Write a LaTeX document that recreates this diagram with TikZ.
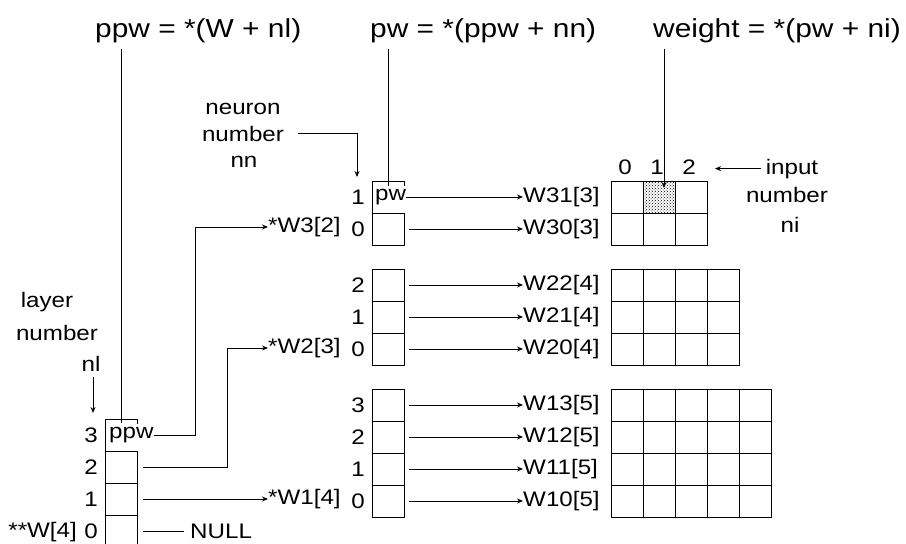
\documentclass[tikz,border=0pt]{standalone}
\usepackage{fontspec}
\setmainfont{Liberation Sans}[FakeStretch=1.15]
\usetikzlibrary{arrows.meta,calc,patterns}
\begin{document}
\begin{tikzpicture}[x=1pt,y=-1pt,
  ln/.style={line width=0.9pt},
  cell/.style={draw,line width=0.9pt,minimum width=32pt,minimum height=32pt,inner sep=0pt,outer sep=0pt},
  hcell/.style={minimum width=32pt,minimum height=32pt,inner sep=0pt,outer sep=0pt},
  big/.style={font=\fontsize{26}{30}\selectfont,inner sep=0pt},
  sm/.style={font=\fontsize{21}{25}\selectfont,inner sep=0pt},
  arr/.style={line width=0.9pt,-{Stealth[length=6pt,width=5pt]}}]
\useasboundingbox (0,0) rectangle (906,544);

% top formulas
\node[big,anchor=base west] (tppw) at (95,37) {ppw = *(W + nl)};
\node[big,anchor=base west] (tpw) at (370,37) {pw = *(ppw + nn)};
\node[big,anchor=base west] (tw) at (653,37) {weight = *(pw + ni)};

% ---------- left stack (layers) ----------
\node[hcell] (L3) at (121,435) {};
\foreach \n/\y in {2/467,1/499,0/531} \node[cell] (L\n) at (121,\y) {};
\draw[ln] (L3.south west) -- (L3.north west) -- (L3.north east) -- ++(0,5);
\node[sm,anchor=west] (ppwt) at (109,435) {ppw};
\foreach \n/\y in {3/435,2/467,1/499,0/531} \node[sm,anchor=east] (ll\n) at (98,\y) {\n};
\node[sm,anchor=east] (w4) at (77,532) {**W[4]};

\node[sm,anchor=base] (lay1) at (47,307) {layer};
\node[sm,anchor=base] (lay2) at (57,340) {number};
\node[sm,anchor=base] (lay3) at (91,371) {nl};
\coordinate (nlto) at (93,413);
\draw[arr] ($(lay3.south -| nlto)+(0,6)$) -- (nlto);

\coordinate (ppwin) at (121,423);
\draw[ln] ($(tppw.south -| ppwin)+(0,6)$) -- (ppwin);

% pointers from the left stack
\node[sm,anchor=west] (P3) at (268,227) {*W3[2]};
\node[sm,anchor=west] (P2) at (268,348) {*W2[3]};
\node[sm,anchor=west] (P1) at (268,499) {*W1[4]};
\node[sm,anchor=west] (null) at (190,531) {NULL};
\coordinate (b3) at (195,0);
\coordinate (b2) at (227,0);
\coordinate (s2) at ([xshift=6pt]L2.east);
\coordinate (s1) at ([xshift=6pt]L1.east);
\coordinate (s0) at ([xshift=6pt]L0.east);
\draw[arr] (ppwt.east) -- (ppwt.east -| b3) |- (P3.west);
\draw[arr] (s2) -- (s2 -| b2) |- (P2.west);
\draw[arr] (s1) -- (P1.west);
\draw[ln] (s0) -- ([xshift=-6pt]null.west);

% ---------- neuron label ----------
\node[sm,anchor=base] (nn1) at (243,114) {neuron};
\node[sm,anchor=base] (nn2) at (243,141) {number};
\node[sm,anchor=base] (nn3) at (244,167) {nn};
\coordinate (nnto) at (357,177);
\draw[arr] ([xshift=14pt]nn2.east) -| (nnto);

% ---------- middle stacks ----------
\node[hcell] (N31) at (388,197) {};
\node[cell] (N30) at (388,229) {};
\draw[ln] (N31.south west) -- (N31.north west) -- (N31.north east) -- ++(0,5);
\node[sm,anchor=west] (pwt) at (375,197) {pw};
\coordinate (pwin) at (388,186);
\draw[ln] ($(tpw.south -| pwin)+(0,6)$) -- (pwin);

\foreach \n/\y in {22/285,21/317,20/349,13/405,12/437,11/469,10/501}
  \node[cell] (N\n) at (388,\y) {};
\foreach \n/\t/\y in {31/1/197,30/0/229,22/2/285,21/1/317,20/0/349,13/3/405,12/2/437,11/1/469,10/0/501}
  \node[sm,anchor=east] (nl\n) at (365,\y) {\t};

% W labels
\foreach \n/\k/\y in {31/3/197,30/3/229,22/4/285,21/4/317,20/4/349,13/5/405,12/5/437,11/5/469,10/5/501}
  \node[sm,anchor=west] (W\n) at (523,\y) {W\n[\k]};

\draw[arr] (pwt.east) -- (W31.west);
\foreach \n in {30,22,21,20,13,12,11,10}
  \draw[arr] ([xshift=5pt]N\n.east) -- (W\n.west);

% ---------- weight matrices ----------
\fill[pattern=crosshatch dots] (643,181) rectangle (675,213);
\foreach \r/\y in {1/197,0/229}
  \foreach \c in {0,1,2}
    \node[cell] (M3-\r-\c) at (627+32*\c,\y) {};
\foreach \r/\y in {2/285,1/317,0/349}
  \foreach \c in {0,1,2,3}
    \node[cell] (M2-\r-\c) at (627+32*\c,\y) {};
\foreach \r/\y in {3/405,2/437,1/469,0/501}
  \foreach \c in {0,1,2,3,4}
    \node[cell] (M1-\r-\c) at (627+32*\c,\y) {};

\coordinate (wto) at (664,188);
\draw[arr] ($(tw.south -| wto)+(0,6)$) -- (wto);

% column numbers and input label
\foreach \c in {0,1,2} \node[sm] (col\c) at (625+32*\c,167) {\c};
\node[sm,anchor=base] (inp) at (792,174) {input};
\node[sm,anchor=base] (inp2) at (787,202) {number};
\node[sm,anchor=base] (inp3) at (790,232) {ni};
\coordinate (inpto) at (715,0);
\draw[arr] ([xshift=-5pt]inp.west) -- (inpto |- inp.west);
\end{tikzpicture}
\end{document}
